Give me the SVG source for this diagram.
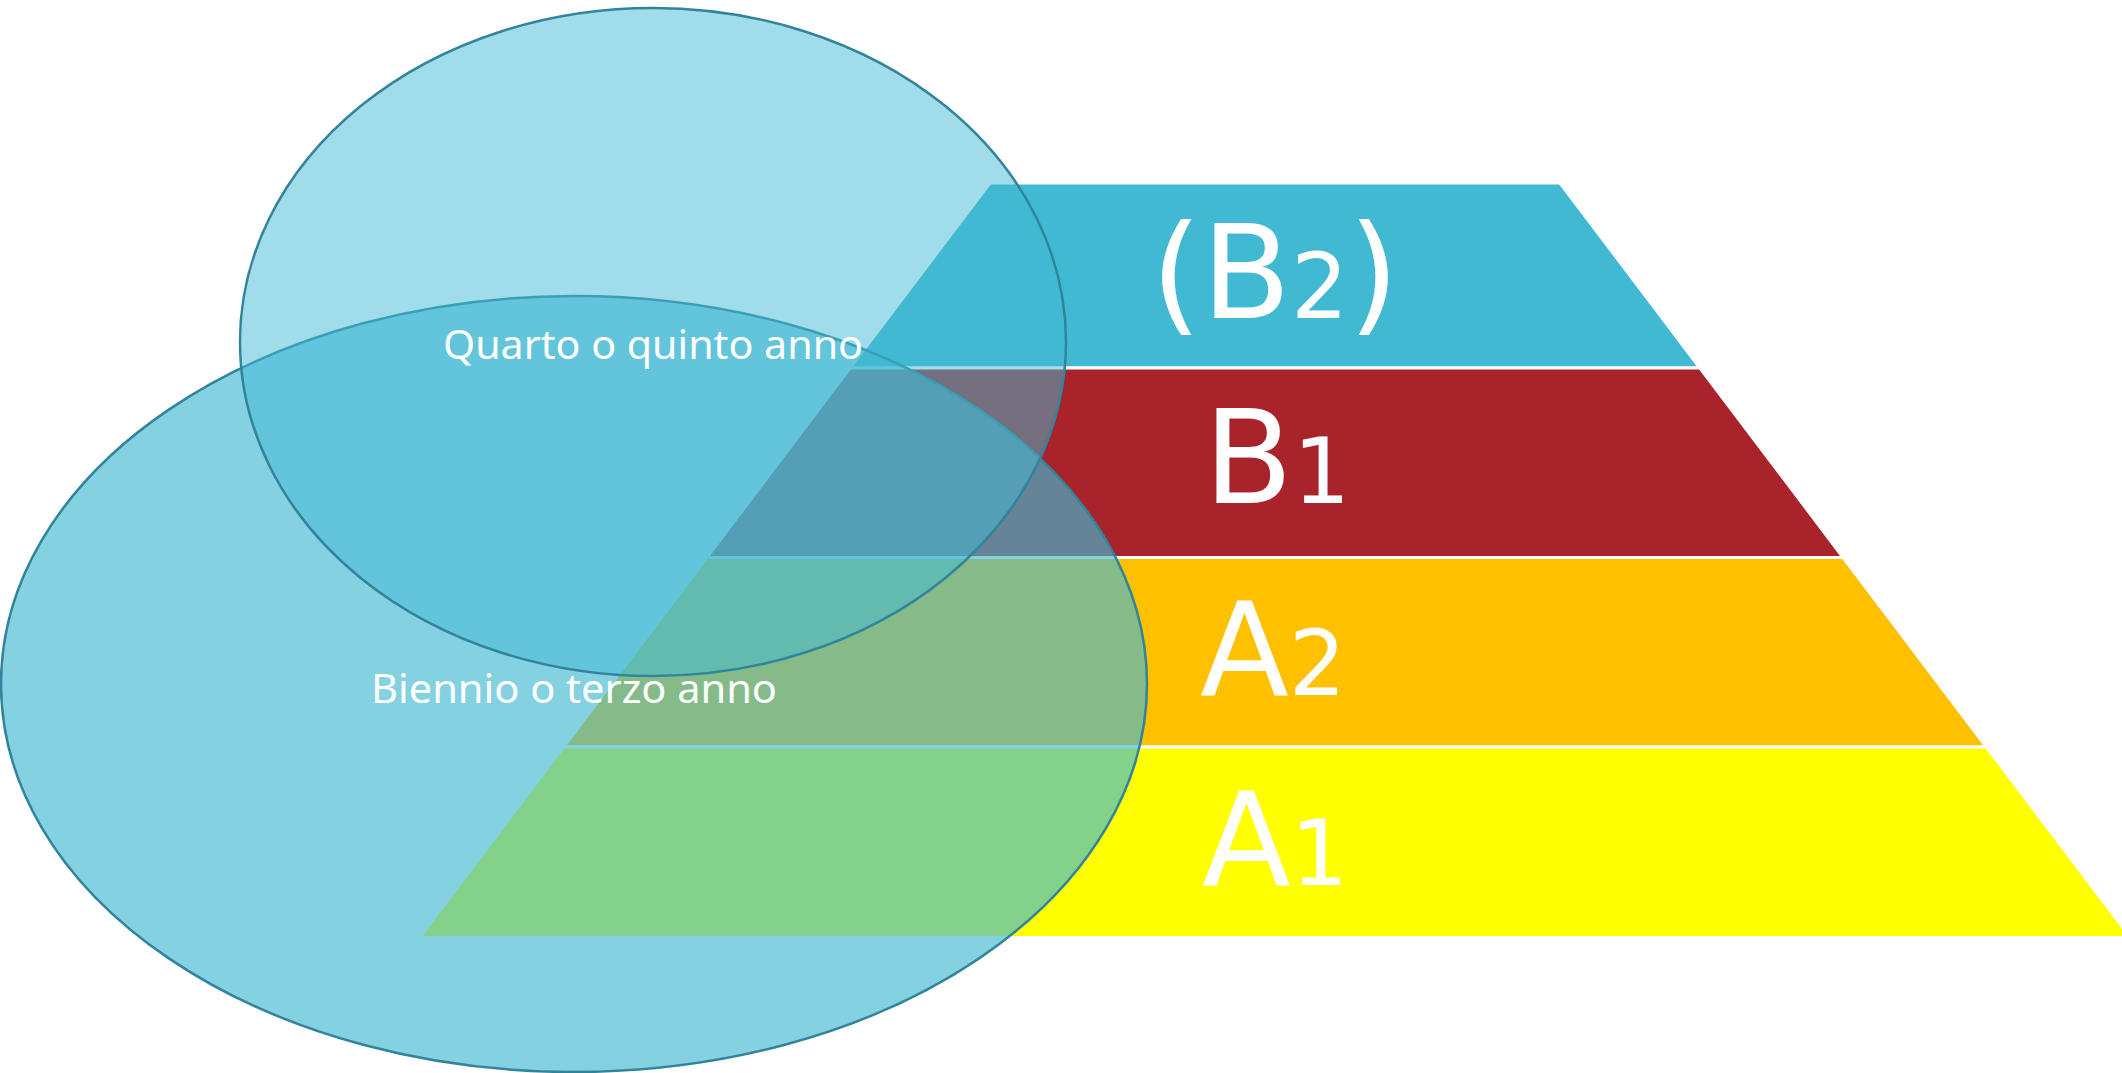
<svg xmlns="http://www.w3.org/2000/svg" width="2122" height="1073" viewBox="0 0 2122 1073">
  <style>
    .band { stroke: #ffffff; stroke-width: 3; stroke-linejoin: miter; }
    .lvl { font-family: "DejaVu Sans", "Liberation Sans", sans-serif; font-size: 130px; fill: #ffffff; text-anchor: middle; }
    .sub { font-size: 90px; }
    .ell { fill: #42B9D3; stroke: #31849B; stroke-width: 2.5; }
    .ell-label { font-family: "Noto Sans", "Liberation Sans", sans-serif; font-size: 40px; fill: #ffffff; text-anchor: middle; }
  </style>
  <rect width="2122" height="1073" fill="#ffffff"/>
  <g id="band-B2">
    <polygon class="band" fill="#42B9D3" points="990,183 1560,183 1699.9,368 850.1,368"/>
    <text class="lvl" x="1275" y="318">(B<tspan class="sub">2</tspan>)</text>
  </g>
  <g id="band-B1">
    <polygon class="band" fill="#A8232A" points="850.1,368 1699.9,368 1843.1,557.5 706.9,557.5"/>
    <text class="lvl" x="1277" y="503">B<tspan class="sub">1</tspan></text>
  </g>
  <g id="band-A2">
    <polygon class="band" fill="#FFC000" points="706.9,557.5 1843.1,557.5 1986.4,747 563.6,747"/>
    <text class="lvl" x="1273" y="695">A<tspan class="sub">2</tspan></text>
  </g>
  <g id="band-A1">
    <polygon class="band" fill="#FFFF00" points="563.6,747 1986.4,747 2130.4,937.5 419.6,937.5"/>
    <text class="lvl" x="1275" y="885">A<tspan class="sub">1</tspan></text>
  </g>
  <g id="ellipse-biennio">
    <ellipse class="ell" fill-opacity="0.65" cx="574" cy="684" rx="573" ry="388"/>
  </g>
  <g id="ellipse-quarto">
    <ellipse class="ell" fill-opacity="0.5" cx="653" cy="342" rx="413" ry="334"/>
  </g>
  <g id="labels">
    <text class="ell-label" x="653" y="359" textLength="420" lengthAdjust="spacingAndGlyphs">Quarto o quinto anno</text>
    <text class="ell-label" x="574" y="703" textLength="406" lengthAdjust="spacingAndGlyphs">Biennio o terzo anno</text>
  </g>
  <g id="connectors"/>
</svg>
